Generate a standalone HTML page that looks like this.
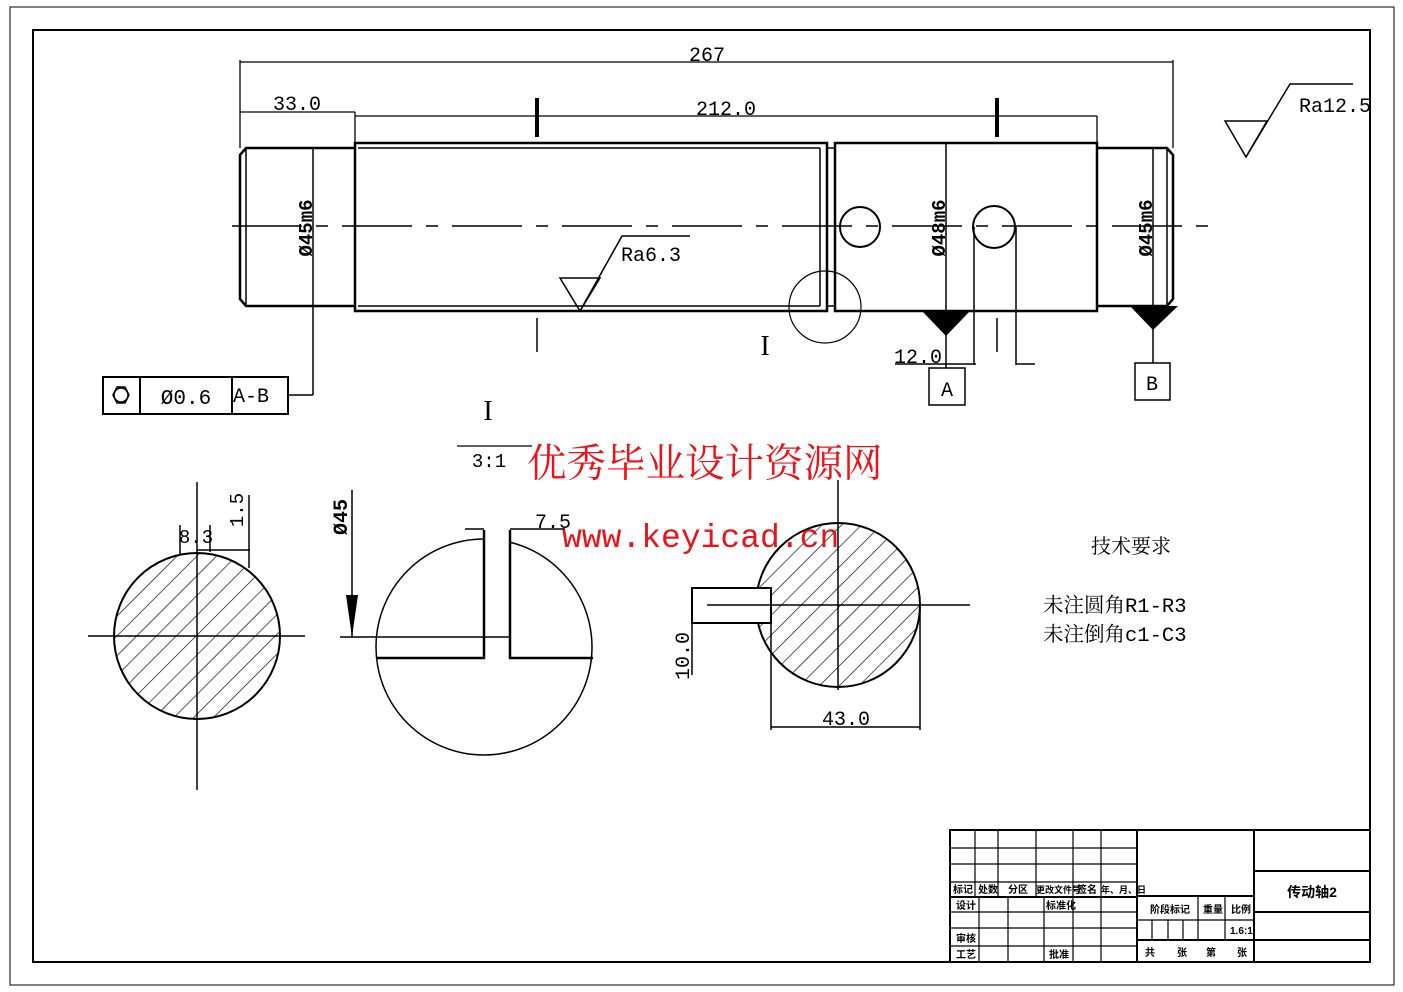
<!DOCTYPE html>
<html><head><meta charset="utf-8"><style>
html,body{margin:0;padding:0;background:#fff;}
svg{display:block;}
text{font-family:"Liberation Mono","Noto Serif CJK SC",monospace;fill:#000;}
.cjk{font-family:"Liberation Mono","Noto Serif CJK SC",serif;}
.tb{font-family:"Liberation Sans","Noto Sans CJK SC",sans-serif;font-size:10px;font-weight:bold;}
</style></head><body>
<svg width="1403" height="992" viewBox="0 0 1403 992" xmlns="http://www.w3.org/2000/svg">
<defs>
<pattern id="h" patternUnits="userSpaceOnUse" width="14" height="14" patternTransform="rotate(45)">
<line x1="0" y1="0" x2="0" y2="14" stroke="#000" stroke-width="1.3"/>
</pattern>
</defs>
<rect x="10" y="7" width="1384" height="978" fill="none" stroke="#000" stroke-width="1"/>
<rect x="33" y="30" width="1337" height="932" fill="none" stroke="#000" stroke-width="2"/>

<!-- shaft -->
<g fill="none" stroke="#000" stroke-width="2.5">
<path d="M355,148 H246 L240,155 V299 L246,306 H355"/>
<line x1="246" y1="148" x2="246" y2="306" stroke-width="1.5"/>
<rect x="355" y="143" width="472" height="168"/>
<line x1="358" y1="148" x2="820" y2="148" stroke-width="1.5"/>
<line x1="358" y1="306" x2="820" y2="306" stroke-width="1.5"/>
<line x1="820" y1="148" x2="820" y2="306" stroke-width="1.5"/>
<line x1="827" y1="148" x2="835" y2="148" stroke-width="1.5"/>
<line x1="827" y1="306" x2="835" y2="306" stroke-width="1.5"/>
<rect x="835" y="143" width="262" height="168"/>
<path d="M1097,148 H1167 L1173,155 V299 L1167,306 H1097"/>
<line x1="1167" y1="148" x2="1167" y2="306" stroke-width="1.5"/>
</g>
<line x1="232" y1="226" x2="1220" y2="226" stroke="#000" stroke-width="1.5" stroke-dasharray="70,14,12,14"/>
<g fill="none" stroke="#000" stroke-width="2">
<circle cx="860" cy="227" r="20"/>
<circle cx="994" cy="227" r="21"/>
</g>
<circle cx="825" cy="307" r="36" fill="none" stroke="#000" stroke-width="1.2"/>

<!-- dimensions top -->
<g stroke="#000" stroke-width="1.3" fill="none">
<line x1="240" y1="60" x2="240" y2="148"/>
<line x1="1173" y1="60" x2="1173" y2="148"/>
<line x1="240" y1="62" x2="1173" y2="62"/>
<line x1="240" y1="112" x2="355" y2="112"/>
<line x1="355" y1="112" x2="355" y2="143"/>
<line x1="355" y1="116" x2="1097" y2="116"/>
<line x1="1097" y1="116" x2="1097" y2="148"/>
</g>
<text x="707" y="61" font-size="20" text-anchor="middle">267</text>
<text x="297" y="110" font-size="20" text-anchor="middle">33.0</text>
<text x="726" y="115" font-size="20" text-anchor="middle">212.0</text>
<g stroke="#000" stroke-width="4"><line x1="537" y1="98" x2="537" y2="137"/><line x1="997" y1="98" x2="997" y2="137"/></g>
<g stroke="#000" stroke-width="1.5"><line x1="537" y1="318" x2="537" y2="352"/><line x1="997" y1="318" x2="997" y2="352"/></g>
<text x="765" y="355" font-size="28" text-anchor="middle" style="font-family:'Liberation Serif',serif">I</text>
<text x="488" y="420" font-size="28" text-anchor="middle" style="font-family:'Liberation Serif',serif">I</text>
<line x1="457" y1="446" x2="532" y2="446" stroke="#000" stroke-width="1.3"/>
<text x="489" y="467" font-size="19" text-anchor="middle">3:1</text>

<!-- Ra -->
<g stroke="#000" stroke-width="1.5" fill="none">
<path d="M1225,121 H1267 L1246,157 Z"/><path d="M1246,157 L1290,84 H1353"/>
<path d="M560,278 H600 L580,311 Z"/><path d="M580,311 L622,236 H690"/>
</g>
<text x="1299" y="112" font-size="20">Ra12.5</text>
<text x="621" y="261" font-size="20">Ra6.3</text>

<!-- diameters -->
<g stroke="#000" stroke-width="1.5" fill="none">
<line x1="313" y1="148" x2="313" y2="395"/>
<path d="M288,395 H313"/>
<rect x="103" y="377" width="185" height="37" stroke-width="2"/>
<line x1="140" y1="377" x2="140" y2="414" stroke-width="2"/>
<line x1="232" y1="377" x2="232" y2="414" stroke-width="2"/>
<circle cx="121" cy="395" r="7"/>
<path d="M113,395 L117,387 H125 L129,395 L125,403 H117 Z"/>
<line x1="946" y1="143" x2="946" y2="368"/>
<line x1="1153" y1="148" x2="1153" y2="363"/>
<line x1="974" y1="227" x2="974" y2="365"/>
<line x1="1016" y1="227" x2="1016" y2="365"/>
<line x1="895" y1="364" x2="976" y2="364"/>
<line x1="1016" y1="364" x2="1035" y2="364"/>
<rect x="929" y="368" width="36" height="37"/>
<rect x="1135" y="363" width="35" height="37"/>
</g>
<path d="M922,311 H970 L946,336 Z" fill="#000"/>
<path d="M1130,306 H1178 L1153,330 Z" fill="#000"/>
<text x="186" y="404" font-size="21" text-anchor="middle">Ø0.6</text>
<text x="251" y="402" font-size="20" text-anchor="middle">A-B</text>
<text x="947" y="396" font-size="20" text-anchor="middle">A</text>
<text x="1152" y="390" font-size="20" text-anchor="middle">B</text>
<text x="918" y="363" font-size="20" text-anchor="middle">12.0</text>
<text transform="translate(312,228) rotate(-90)" font-size="19" text-anchor="middle" font-weight="bold">Ø45m6</text>
<text transform="translate(945,228) rotate(-90)" font-size="19" text-anchor="middle" font-weight="bold">Ø48m6</text>
<text transform="translate(1152,228) rotate(-90)" font-size="19" text-anchor="middle" font-weight="bold">Ø45m6</text>

<!-- left section -->
<circle cx="197" cy="636" r="83" fill="url(#h)" stroke="#000" stroke-width="2"/>
<g stroke="#000" stroke-width="1.5">
<line x1="88" y1="636" x2="305" y2="636"/>
<line x1="197" y1="482" x2="197" y2="790"/>
<line x1="180" y1="525" x2="180" y2="555"/>
<line x1="210" y1="525" x2="210" y2="552"/>
<line x1="197" y1="550" x2="250" y2="550"/>
<line x1="249" y1="495" x2="249" y2="568"/>
</g>
<text x="196" y="543" font-size="19" text-anchor="middle">8.3</text>
<text transform="translate(243,510) rotate(-90)" font-size="19" text-anchor="middle">1.5</text>

<!-- middle section -->
<circle cx="484" cy="647" r="108" fill="none" stroke="#000" stroke-width="1.5"/>
<rect x="485" y="528" width="25" height="135" fill="#fff" stroke="none"/>
<g stroke="#000" fill="none">
<path d="M484,530 V658 H376" stroke-width="2.5"/>
<path d="M510,530 V658 H593" stroke-width="2.5"/>
<line x1="340" y1="637" x2="510" y2="637" stroke-width="1.5"/>
<line x1="352" y1="490" x2="352" y2="637" stroke-width="1.5"/>
<line x1="465" y1="529" x2="484" y2="529" stroke-width="1.5"/>
<line x1="510" y1="529" x2="565" y2="529" stroke-width="1.5"/>
</g>
<path d="M346,595 H358 L352,637 Z" fill="#000"/>
<text transform="translate(347,517) rotate(-90)" font-size="20" text-anchor="middle" font-weight="bold">Ø45</text>
<text x="553" y="528" font-size="20" text-anchor="middle">7.5</text>

<!-- right section -->
<circle cx="838" cy="605" r="82" fill="url(#h)" stroke="#000" stroke-width="2"/>
<rect x="692" y="588" width="79" height="35" fill="#fff" stroke="#000" stroke-width="2"/>
<g stroke="#000" stroke-width="1.5">
<line x1="707" y1="605" x2="970" y2="605"/>
<line x1="838" y1="480" x2="838" y2="690"/>
<line x1="692" y1="588" x2="692" y2="675"/>
<line x1="771" y1="623" x2="771" y2="730"/>
<line x1="920" y1="605" x2="920" y2="730"/>
<line x1="771" y1="727" x2="920" y2="727"/>
</g>
<text x="846" y="725" font-size="20" text-anchor="middle">43.0</text>
<text transform="translate(689,656) rotate(-90)" font-size="20" text-anchor="middle">10.0</text>

<!-- tech req -->
<text x="1131" y="553" font-size="20" text-anchor="middle" class="cjk">技术要求</text>
<text x="1043" y="612" font-size="20.5" class="cjk">未注圆角R1-R3</text>
<text x="1043" y="641" font-size="20.5" class="cjk">未注倒角c1-C3</text>

<!-- watermark -->
<text x="527" y="477" font-size="39.5" style="fill:#e8141c;font-family:'Noto Serif CJK SC','Noto Sans CJK SC',serif">优秀毕业设计资源网</text>
<text x="562" y="547" font-size="33" style="fill:#e8141c;font-family:'Liberation Mono',monospace">www.keyicad.cn</text>

<!-- title block -->
<g stroke="#000" fill="none" stroke-width="1.2">
<rect x="950" y="830" width="420" height="132" stroke-width="2"/>
<line x1="1137" y1="830" x2="1137" y2="962" stroke-width="2"/>
<line x1="1254" y1="830" x2="1254" y2="962" stroke-width="2"/>
<line x1="950" y1="848" x2="1137" y2="848"/>
<line x1="950" y1="864" x2="1137" y2="864"/>
<line x1="950" y1="882" x2="1137" y2="882"/>
<line x1="950" y1="897" x2="1137" y2="897" stroke-width="2"/>
<line x1="950" y1="912" x2="1137" y2="912"/>
<line x1="950" y1="928" x2="1137" y2="928"/>
<line x1="950" y1="946" x2="1137" y2="946"/>
<line x1="975" y1="830" x2="975" y2="897"/>
<line x1="998" y1="830" x2="998" y2="897"/>
<line x1="1036" y1="830" x2="1036" y2="897"/>
<line x1="1073" y1="830" x2="1073" y2="962"/>
<line x1="1101" y1="830" x2="1101" y2="962"/>
<line x1="979" y1="897" x2="979" y2="962"/>
<line x1="1008" y1="897" x2="1008" y2="962"/>
<line x1="1044" y1="897" x2="1044" y2="962"/>
<line x1="1137" y1="896" x2="1254" y2="896" stroke-width="2"/>
<line x1="1137" y1="920" x2="1254" y2="920"/>
<line x1="1137" y1="940" x2="1254" y2="940" stroke-width="2"/>
<line x1="1198" y1="896" x2="1198" y2="940"/>
<line x1="1225" y1="896" x2="1225" y2="940"/>
<line x1="1152" y1="920" x2="1152" y2="940"/>
<line x1="1168" y1="920" x2="1168" y2="940"/>
<line x1="1183" y1="920" x2="1183" y2="940"/>
<line x1="1254" y1="871" x2="1370" y2="871" stroke-width="2"/>
<line x1="1254" y1="912" x2="1370" y2="912" stroke-width="2"/>
<line x1="1254" y1="940" x2="1370" y2="940" stroke-width="2"/>
</g>
<g>
<text x="953" y="893" class="tb">标记</text><text x="978" y="893" class="tb">处数</text>
<text x="1008" y="893" class="tb">分区</text><text x="1036" y="893" class="tb" style="font-size:9px">更改文件号</text>
<text x="1077" y="893" class="tb">签名</text><text x="1101" y="893" class="tb" style="font-size:9px">年、月、日</text>
<text x="956" y="909" class="tb">设计</text><text x="1046" y="909" class="tb">标准化</text>
<text x="956" y="942" class="tb">审核</text><text x="956" y="958" class="tb">工艺</text>
<text x="1049" y="958" class="tb">批准</text>
<text x="1150" y="913" class="tb">阶段标记</text><text x="1203" y="913" class="tb">重量</text>
<text x="1231" y="913" class="tb">比例</text><text x="1230" y="934" class="tb">1.6:1</text>
<text x="1145" y="956" class="tb">共</text><text x="1177" y="956" class="tb">张</text>
<text x="1206" y="956" class="tb">第</text><text x="1237" y="956" class="tb">张</text>
<text x="1312" y="897" class="tb" text-anchor="middle" style="font-size:14px">传动轴2</text>
</g>
</svg>
</body></html>
